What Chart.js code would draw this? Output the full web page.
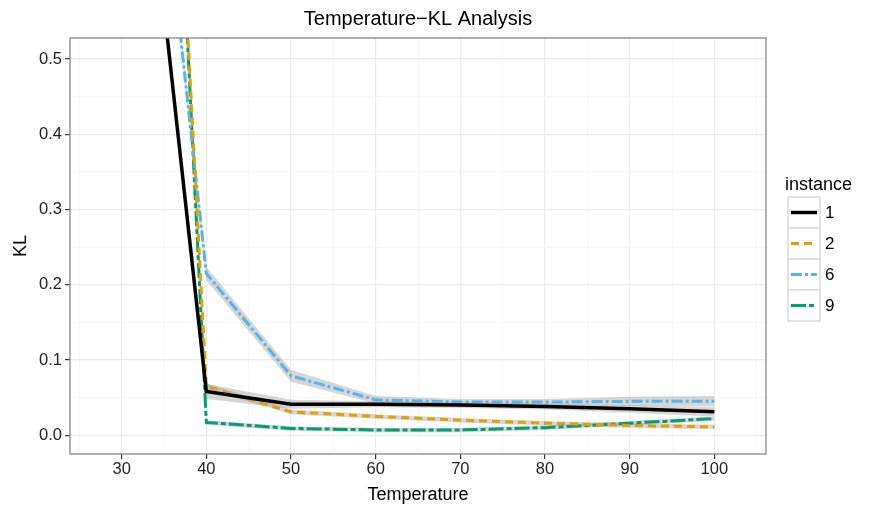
<!DOCTYPE html>
<html>
<head>
<meta charset="utf-8">
<script src="https://cdn.jsdelivr.net/npm/chart.js@4"></script>
<style>
  body { margin: 0; background: #fff; }
  #wrap { width: 874px; height: 511px; }
</style>
</head>
<body>
<div id="wrap"><canvas id="klChart" width="874" height="511"></canvas></div>
<script>
// data
const temperature = [30, 40, 50, 60, 70, 80, 90, 100];
const kl1 = [1.08, 0.058, 0.041, 0.041, 0.040, 0.038, 0.035, 0.031];
const kl2 = [2.20, 0.065, 0.031, 0.025, 0.020, 0.016, 0.013, 0.011];
const kl6 = [1.25, 0.215, 0.079, 0.047, 0.044, 0.044, 0.045, 0.045];
const kl9 = [2.30, 0.017, 0.009, 0.007, 0.007, 0.010, 0.016, 0.022];
// half width of the grey confidence ribbons
const se1 = [0.01, 0.010, 0.006, 0.004, 0.004, 0.004, 0.005, 0.006];
const se2 = [0.01, 0.004, 0.003, 0.003, 0.003, 0.003, 0.003, 0.003];
const se6 = [0.01, 0.009, 0.008, 0.005, 0.004, 0.004, 0.006, 0.007];
const se9 = [0.01, 0.003, 0.003, 0.003, 0.003, 0.003, 0.003, 0.003];
const instances = ['1', '2', '6', '9'];
const xTicks = [30, 40, 50, 60, 70, 80, 90, 100];
const yTicks = [0, 0.1, 0.2, 0.3, 0.4, 0.5];

const series = [
  { name: '1', y: kl1, se: se1, color: '#000000', dash: [], width: 3.5 },
  { name: '2', y: kl2, se: se2, color: '#E69F00', dash: [8, 5], width: 3 },
  { name: '6', y: kl6, se: se6, color: '#56B4E9', dash: [11, 3, 3, 3], width: 3 },
  { name: '9', y: kl9, se: se9, color: '#009E73', dash: [15, 3, 5, 3], width: 3 }
];

const pts = (ys) => temperature.map((t, i) => ({ x: t, y: ys[i] }));
const datasets = [];
series.forEach(s => {
  datasets.push({
    label: s.name, data: pts(s.y), borderColor: s.color, borderWidth: s.width,
    borderDash: s.dash, pointRadius: 0, tension: 0, fill: false, order: 0, clip: 0
  });
});
series.forEach(s => {
  const n = datasets.length;
  datasets.push({
    label: s.name + ' hi', data: pts(s.y.map((v, i) => v + s.se[i])),
    borderWidth: 0, pointRadius: 0, tension: 0,
    backgroundColor: 'rgba(153,153,153,0.4)', fill: n + 1, order: 1, clip: 0
  });
  datasets.push({
    label: s.name + ' lo', data: pts(s.y.map((v, i) => v - s.se[i])),
    borderWidth: 0, pointRadius: 0, tension: 0, fill: false, order: 1, clip: 0
  });
});

const isMajorX = v => xTicks.includes(v);
const isMajorY = v => yTicks.some(t => Math.abs(t - v) < 1e-9);
const font = '"Liberation Sans", Arial, sans-serif';

const frame = {
  id: 'frame',
  afterDraw(chart) {
    const { ctx, chartArea: a } = chart;
    ctx.save();
    ctx.strokeStyle = '#7f7f7f';
    ctx.lineWidth = 1.2;
    ctx.strokeRect(a.left, a.top, a.right - a.left, a.bottom - a.top);

    // legend
    const lx = 788, ly = 197, kw = 32, kh = 31;
    ctx.fillStyle = '#000';
    ctx.font = '18px ' + font;
    ctx.textBaseline = 'alphabetic';
    ctx.textAlign = 'left';
    ctx.fillText('instance', 785, 190);
    series.forEach((s, i) => {
      const y0 = ly + i * kh;
      ctx.fillStyle = '#fff';
      ctx.fillRect(lx, y0, kw, kh);
      ctx.strokeStyle = '#d9d9d9';
      ctx.lineWidth = 1.5;
      ctx.setLineDash([]);
      ctx.strokeRect(lx, y0, kw, kh);
      ctx.beginPath();
      ctx.strokeStyle = s.color;
      ctx.lineWidth = s.width;
      ctx.setLineDash(s.dash);
      ctx.moveTo(lx + 3, y0 + kh / 2);
      ctx.lineTo(lx + kw - 3, y0 + kh / 2);
      ctx.stroke();
      ctx.setLineDash([]);
      ctx.fillStyle = '#000';
      ctx.font = '17px ' + font;
      ctx.textBaseline = 'middle';
      ctx.fillText(instances[i], lx + kw + 5, y0 + kh / 2 + 1);
    });
    ctx.restore();
  }
};

new Chart(document.getElementById('klChart').getContext('2d'), {
  type: 'line',
  data: { datasets: datasets },
  plugins: [frame],
  options: {
    responsive: false,
    animation: false,
    layout: { padding: { left: 0, right: 108, top: 0, bottom: 0 } },
    plugins: {
      legend: { display: false },
      tooltip: { enabled: false },
      title: {
        display: true, text: 'Temperature\u2212KL Analysis', fullSize: false,
        color: '#000', font: { family: font, size: 20, weight: 'normal' },
        padding: { top: 7, bottom: 7 }
      }
    },
    scales: {
      x: {
        type: 'linear', min: 23.9, max: 106.1,
        afterBuildTicks: ax => { ax.ticks = [25, 30, 35, 40, 45, 50, 55, 60, 65, 70, 75, 80, 85, 90, 95, 100, 105].map(v => ({ value: v })); },
        afterFit: ax => { ax.height = 57; },
        ticks: {
          autoSkip: false, maxRotation: 0, padding: 1, color: '#222',
          font: { family: font, size: 16.5 },
          callback: v => isMajorX(v) ? String(v) : ''
        },
        grid: {
          color: c => isMajorX(c.tick.value) ? '#ebebeb' : '#f5f5f5',
          lineWidth: c => isMajorX(c.tick.value) ? 1.2 : 0.8,
          tickColor: c => isMajorX(c.tick.value) ? '#333' : 'rgba(0,0,0,0)',
          tickLength: 5
        },
        border: { display: false },
        title: { display: true, text: 'Temperature', color: '#000', font: { family: font, size: 18 }, padding: { top: 0, bottom: 5 } }
      },
      y: {
        type: 'linear', min: -0.025, max: 0.528,
        afterBuildTicks: ax => { ax.ticks = [0, 0.05, 0.1, 0.15, 0.2, 0.25, 0.3, 0.35, 0.4, 0.45, 0.5].map(v => ({ value: v })); },
        afterFit: ax => { ax.width = 70; },
        ticks: {
          autoSkip: false, padding: 3, color: '#222',
          font: { family: font, size: 16.5 },
          callback: v => isMajorY(v) ? v.toFixed(1) : ''
        },
        grid: {
          color: c => isMajorY(c.tick.value) ? '#ebebeb' : '#f5f5f5',
          lineWidth: c => isMajorY(c.tick.value) ? 1.2 : 0.8,
          tickColor: c => isMajorY(c.tick.value) ? '#333' : 'rgba(0,0,0,0)',
          tickLength: 5
        },
        border: { display: false },
        title: { display: true, text: 'KL', color: '#000', font: { family: font, size: 18 }, padding: { top: 10, bottom: 0 } }
      }
    }
  }
});
</script>
</body>
</html>
